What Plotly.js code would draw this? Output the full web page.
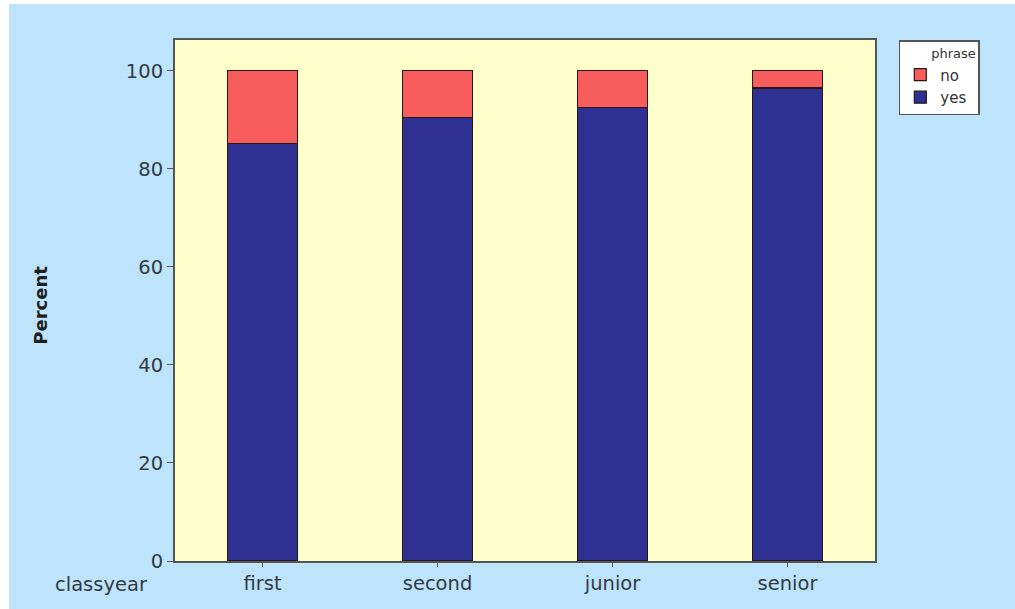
<!DOCTYPE html>
<html>
<head>
<meta charset="utf-8">
<script src="https://cdn.plot.ly/plotly-3.0.1.min.js"></script>
<style>
html,body{margin:0;padding:0;background:#ffffff;}
#wrap{position:absolute;left:9px;top:4px;width:1006px;height:605px;background:#bde4fb;}
#chart{width:1006px;height:605px;}
</style>
</head>
<body>
<div id="wrap"><div id="chart"></div></div>
<script>
const categories = ["first", "second", "junior", "senior"];
const yesValues = [85.2, 90.5, 92.5, 96.5];
const noValues = [14.8, 9.5, 7.5, 3.5];
const yTicks = [0, 20, 40, 60, 80, 100];

const font = "DejaVu Sans, Verdana, sans-serif";
const traces = [
  {type:"bar", name:"yes", x:categories, y:yesValues, width:0.4,
   marker:{color:"#2f3192", line:{color:"#2a1515", width:1.2}}, hoverinfo:"x+y"},
  {type:"bar", name:"no", x:categories, y:noValues, width:0.4,
   marker:{color:"#f75d5d", line:{color:"#2a1515", width:1.2}}, hoverinfo:"x+y"}
];
const layout = {
  width:1006, height:605,
  barmode:"stack",
  paper_bgcolor:"#bde4fb",
  plot_bgcolor:"#ffffcc",
  margin:{l:166, r:140, t:36, b:48},
  font:{family:font, size:19, color:"#333a44"},
  showlegend:true,
  legend:{x:1.034, y:1.0, xanchor:"left", yanchor:"top", bgcolor:"#ffffff",
    bordercolor:"#555555", borderwidth:1.5, font:{size:15, color:"#333"},
    title:{text:"       phrase", font:{size:13, color:"#333"}},
    traceorder:"reversed", itemwidth:30, entrywidth:100, entrywidthmode:"pixels"},
  xaxis:{range:[-0.5, 3.5], showline:true, linecolor:"#555555", linewidth:2, mirror:true,
    ticks:"outside", ticklen:4, tickcolor:"#555", showgrid:false, zeroline:false,
    tickfont:{size:19.5, color:"#333a44"}},
  yaxis:{range:[0, 106.3], tickvals:yTicks, showline:true, linecolor:"#555555", linewidth:2, mirror:true,
    ticks:"outside", ticklen:6, tickcolor:"#555", showgrid:false, zeroline:false,
    tickfont:{size:19.5, color:"#333a44"}},
  annotations:[
    {text:"classyear", xref:"paper", yref:"paper", x:0, y:0, xshift:-74, yshift:-10,
     xanchor:"center", yanchor:"top", showarrow:false, font:{size:19.5, color:"#333a44"}},
    {text:"<b>Percent</b>", xref:"paper", yref:"paper", x:0, y:0.49, xshift:-134,
     xanchor:"center", yanchor:"middle", textangle:-90, showarrow:false, font:{size:18, color:"#1e1e1e"}}
  ]
};
Plotly.newPlot("chart", traces, layout, {displayModeBar:false, staticPlot:true});
</script>
</body>
</html>
